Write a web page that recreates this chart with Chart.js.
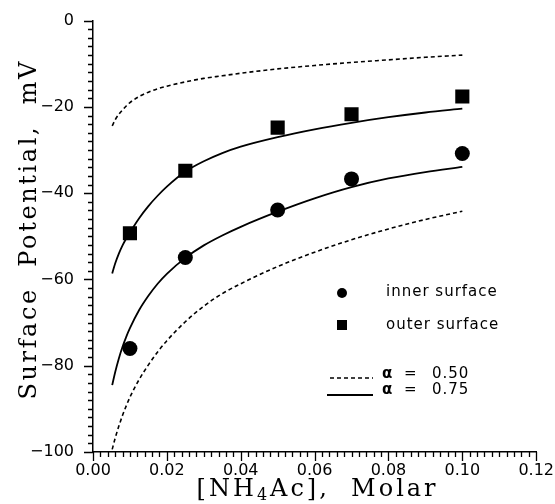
<!DOCTYPE html>
<html lang="en">
<head>
  <meta charset="UTF-8">
  <title>Surface Potential vs [NH4Ac]</title>
  <script src="https://cdn.jsdelivr.net/npm/chart.js"></script>
  <style>
    html, body { margin: 0; padding: 0; background: #fff; }
    #wrap { width: 555px; height: 504px; }
  </style>
</head>
<body>
  <div id="wrap"><canvas id="chart"></canvas></div>

  <script>
    // measured points
    const xMeasured = [0.01, 0.025, 0.05, 0.07, 0.10];
    const innerSurface = [-76.0, -54.9, -43.9, -36.7, -30.8];
    const outerSurface = [-49.3, -34.8, -24.8, -21.7, -17.6];

    // model curves
    const xModel = [0.0052, 0.006, 0.007, 0.008, 0.009, 0.01, 0.0125, 0.015, 0.0175, 0.02,
                    0.025, 0.03, 0.035, 0.04, 0.05, 0.06, 0.07, 0.08, 0.09, 0.10];
    const outerAlpha75 = [-58.6, -56.3, -54.0, -52.1, -50.5, -49.1, -45.8, -43.0, -40.6, -38.5,
                          -35.0, -32.6, -30.7, -29.2, -27.0, -25.2, -23.7, -22.4, -21.3, -20.4];
    const innerAlpha75 = [-84.5, -81.5, -78.3, -75.6, -73.3, -71.3, -67.1, -63.8, -61.0, -58.7,
                          -55.0, -52.1, -49.8, -47.8, -44.3, -41.2, -38.6, -36.6, -35.1, -33.9];
    const outerAlpha50 = [-24.4, -23.0, -21.7, -20.7, -19.8, -19.0, -17.6, -16.6, -15.8, -15.2,
                          -14.2, -13.4, -12.8, -12.2, -11.2, -10.4, -9.7, -9.1, -8.5, -8.0];
    const innerAlpha50 = [-99.4, -96.8, -94.0, -91.5, -89.3, -87.3, -83.2, -79.8, -76.8, -74.2,
                          -69.8, -66.2, -63.3, -61.0, -57.0, -53.7, -50.8, -48.3, -46.1, -44.2];

    // axis ticks
    const xMajorStep = 0.02;
    const xMinorStep = 0.002;
    const yMajorStep = 20;
    const yMinorStep = 2;

    const toPoints = (xs, ys) => xs.map((x, i) => ({ x: x, y: ys[i] }));

    function curve(label, ys, dashed) {
      return {
        label: label,
        data: toPoints(xModel, ys),
        borderColor: "#000",
        borderWidth: dashed ? 1.6 : 1.8,
        borderDash: dashed ? [4, 3] : [],
        pointRadius: 0,
        showLine: true,
        fill: false,
        cubicInterpolationMode: "monotone"
      };
    }

    // minor / major tick marks, drawn outside the axes
    const tickMarks = {
      id: "tickMarks",
      afterDraw(chart) {
        const { ctx, chartArea: a, scales: { x, y } } = chart;
        ctx.save();
        ctx.strokeStyle = "#000";
        ctx.lineWidth = 1.3;
        ctx.beginPath();
        const yCount = Math.round((y.max - y.min) / yMinorStep);
        for (let i = 0; i <= yCount; i++) {
          const v = y.min + i * yMinorStep;
          const py = Math.round(y.getPixelForValue(v)) + 0.5;
          const len = i % (yMajorStep / yMinorStep) === 0 ? 9 : 5;
          ctx.moveTo(a.left - len, py);
          ctx.lineTo(a.left, py);
        }
        const xCount = Math.round((x.max - x.min) / xMinorStep);
        for (let i = 0; i <= xCount; i++) {
          const v = x.min + i * xMinorStep;
          const px = Math.round(x.getPixelForValue(v)) + 0.5;
          const len = i % Math.round(xMajorStep / xMinorStep) === 0 ? 9 : 5;
          ctx.moveTo(px, a.bottom);
          ctx.lineTo(px, a.bottom + len);
        }
        ctx.stroke();
        ctx.restore();
      }
    };

    // axis titles (serif, wide spacing like the original)
    const axisTitles = {
      id: "axisTitles",
      afterDraw(chart) {
        const { ctx, chartArea: a } = chart;
        ctx.save();
        ctx.fillStyle = "#000";
        ctx.textBaseline = "middle";

        // y title
        ctx.letterSpacing = "2.6px";
        ctx.font = "24px 'DejaVu Serif'";
        ctx.textAlign = "center";
        ctx.save();
        ctx.translate(30, (a.top + a.bottom) / 2 - 7);
        ctx.rotate(-Math.PI / 2);
        ctx.fillText("Surface  Potential,  mV", 0, 0);
        ctx.restore();

        // x title with subscript
        ctx.letterSpacing = "3px";
        const parts = [
          { t: "[NH", size: 24, dy: 0 },
          { t: "4", size: 16, dy: 6 },
          { t: "Ac],  Molar", size: 24, dy: 0 }
        ];
        ctx.textAlign = "left";
        let total = 0;
        parts.forEach(p => {
          ctx.font = p.size + "px 'DejaVu Serif'";
          p.w = ctx.measureText(p.t).width;
          total += p.w;
        });
        let cx = (a.left + a.right) / 2 - total / 2 + 3;
        parts.forEach(p => {
          ctx.font = p.size + "px 'DejaVu Serif'";
          ctx.fillText(p.t, cx, 490 + p.dy);
          cx += p.w;
        });
        ctx.restore();
      }
    };

    // legend inside the plot
    const insideLegend = {
      id: "insideLegend",
      afterDraw(chart) {
        const { ctx } = chart;
        ctx.save();
        ctx.fillStyle = "#000";
        ctx.strokeStyle = "#000";
        ctx.font = "15px 'DejaVu Sans'";
        ctx.letterSpacing = "1px";
        ctx.textBaseline = "middle";
        ctx.textAlign = "left";

        ctx.beginPath();
        ctx.arc(342, 293, 5, 0, Math.PI * 2);
        ctx.fill();
        ctx.fillText("inner surface", 386, 292);

        ctx.fillRect(337, 320, 10, 10);
        ctx.fillText("outer surface", 386, 325);

        ctx.lineWidth = 1.5;
        ctx.setLineDash([4, 3]);
        ctx.beginPath();
        ctx.moveTo(330, 378);
        ctx.lineTo(373, 378);
        ctx.stroke();
        ctx.setLineDash([]);
        ctx.lineWidth = 1.8;
        ctx.beginPath();
        ctx.moveTo(327, 395);
        ctx.lineTo(373, 395);
        ctx.stroke();

        ctx.font = "bold 15px 'DejaVu Sans'";
        ctx.fillText("α", 382, 374);
        ctx.fillText("α", 382, 390);
        ctx.font = "15px 'DejaVu Sans'";
        ctx.fillText("=", 404, 374);
        ctx.fillText("=", 404, 390);
        ctx.fillText("0.50", 432, 374);
        ctx.fillText("0.75", 432, 390);
        ctx.restore();
      }
    };

    const tickFont = { family: "'DejaVu Sans'", size: 16 };

    new Chart(document.getElementById("chart"), {
      type: "scatter",
      data: {
        datasets: [
          curve("α = 0.50 outer", outerAlpha50, true),
          curve("α = 0.50 inner", innerAlpha50, true),
          curve("α = 0.75 outer", outerAlpha75, false),
          curve("α = 0.75 inner", innerAlpha75, false),
          {
            label: "inner surface",
            data: toPoints(xMeasured, innerSurface),
            pointStyle: "circle",
            pointRadius: 7.5,
            backgroundColor: "#000",
            borderColor: "#000",
            borderWidth: 0
          },
          {
            label: "outer surface",
            data: toPoints(xMeasured, outerSurface),
            pointStyle: "rect",
            pointRadius: 10,
            backgroundColor: "#000",
            borderColor: "#000",
            borderWidth: 0
          }
        ]
      },
      options: {
        responsive: true,
        maintainAspectRatio: false,
        animation: false,
        layout: { padding: { top: 20, right: 18, left: 0, bottom: 0 } },
        plugins: {
          legend: { display: false },
          tooltip: { enabled: false }
        },
        scales: {
          x: {
            type: "linear",
            min: 0,
            max: 0.12,
            grid: { display: false },
            border: { color: "#000", width: 1.5 },
            afterFit: s => { s.height = 52; },
            ticks: {
              stepSize: xMajorStep,
              autoSkip: false,
              maxRotation: 0,
              padding: 1,
              color: "#000",
              font: tickFont,
              callback: v => v.toFixed(2)
            }
          },
          y: {
            type: "linear",
            min: -100,
            max: 0,
            grid: { display: false },
            border: { color: "#000", width: 1.5 },
            afterFit: s => { s.width = 93; },
            ticks: {
              stepSize: yMajorStep,
              autoSkip: false,
              padding: 11,
              color: "#000",
              font: tickFont,
              callback: v => v < 0 ? "\u2212" + Math.abs(v) : String(v)
            }
          }
        }
      },
      plugins: [tickMarks, axisTitles, insideLegend]
    });
  </script>
</body>
</html>
